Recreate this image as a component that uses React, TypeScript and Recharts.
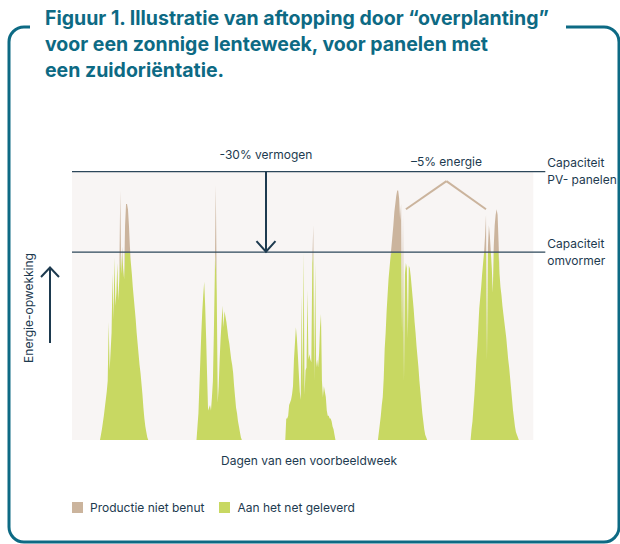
import { Area, AreaChart, Legend, ReferenceArea, ReferenceLine, XAxis, YAxis } from 'recharts'

const INK = '#1d3a4f'
const RULE = '#2c475a'
const TEAL = '#0d6a84'
const GREEN = '#c8d862'
const TAN = '#cbb49d'
const PLOT_BG = '#f8f5f4'
const FONT = 'Inter, "Noto Sans", sans-serif'

// productie per kwartier vanaf zonsopgang, in % van de PV-capaciteit
const DAY_1 = [
  0, 2, 4, 6.5, 9, 12, 15, 18, 22, 44, 26, 33, 40, 62, 45, 68, 50, 55, 66, 52, 60, 93, 62, 72, 64, 60,
  80, 88, 88, 86, 80, 72, 66, 62, 57, 53, 49, 45, 40, 36, 32, 28, 25, 21, 17, 12, 8, 5, 3, 1, 0,
]
const DAY_2 = [
  0, 5, 10, 20, 30, 40, 48, 54, 59, 50, 38, 24, 11, 12, 13, 11, 16, 22, 40, 62, 95, 55, 14, 20, 30, 38,
  44, 50, 42, 48, 46, 44, 41, 38, 36, 33, 30, 28, 25, 20, 16, 12, 10, 7, 5, 3, 1, 0,
]
const DAY_3 = [
  0, 8, 8, 9, 13, 14, 15, 17, 20, 30, 36, 42, 38, 32, 25, 18, 15, 54, 20, 70, 17, 26, 27, 56, 30, 32,
  30, 29, 66, 80, 22, 66, 27, 30, 27, 32, 42, 47, 22, 16, 20, 18, 16, 11, 9, 9, 8, 8, 7, 5, 4, 2, 0,
]
const DAY_4 = [
  0, 3, 6, 9, 13, 16, 23, 34, 40, 48, 54, 60, 64, 68, 72, 76, 80, 85, 88, 91, 93, 93, 90, 82, 88, 40,
  84, 22, 62, 66, 64, 38, 65, 64, 61, 57, 53, 49, 44, 40, 35, 31, 27, 22, 18, 14, 10, 7, 4, 2, 1, 0,
]
const DAY_5 = [
  0, 4, 7, 12, 17, 23, 30, 35, 42, 49, 53, 57, 62, 66, 70, 76, 84, 30, 72, 80, 76, 70, 64, 55, 72, 80,
  84, 86, 84, 74, 62, 57, 54, 50, 47, 44, 41, 38, 34, 30, 27, 23, 19, 15, 11, 8, 5, 3, 2, 1, 0,
]
const DAYS = [DAY_1, DAY_2, DAY_3, DAY_4, DAY_5]
const SUNRISE = [7.25, 32.25, 55.25, 79.25, 103.25]
const STEP = 0.25
const WEEK_END = 119.5

const PV_CAP = 100
const INVERTER_CAP = 70

const SERIES = [
  { key: 'verlies', name: 'Productie niet benut', color: TAN },
  { key: 'geleverd', name: 'Aan het net geleverd', color: GREEN },
]

type Row = { t: number; geleverd: number; verlies: number }

const rows: Row[] = [{ t: 0, geleverd: 0, verlies: 0 }]
DAYS.forEach((day, d) => {
  day.forEach((p, i) => {
    rows.push({
      t: SUNRISE[d] + i * STEP,
      geleverd: Math.min(p, INVERTER_CAP),
      verlies: Math.max(p - INVERTER_CAP, 0),
    })
  })
})
rows.push({ t: WEEK_END, geleverd: 0, verlies: 0 })

const textStyle = { fontFamily: FONT, fontSize: 12, fill: INK }

// horizontale capaciteitslijn, loopt iets door buiten het vlak, met tweeregelig label
function capacityLine(top: string, bottom: string) {
  return (props: any) => (
    <g>
      <line x1={props.x1} y1={props.y1} x2={props.x2 + 12} y2={props.y2} stroke={RULE} strokeWidth={1.2} />
      <text x={props.x2 + 14} y={props.y1 - 4.5} style={textStyle}>
        {top}
      </text>
      <text x={props.x2 + 14} y={props.y1 + 12.5} style={textStyle}>
        {bottom}
      </text>
    </g>
  )
}

function DownArrow(props: any) {
  const { x1, y1, x2, y2 } = props
  return (
    <g>
      <line x1={x1} y1={y1} x2={x2} y2={y2 - 1} stroke={INK} strokeWidth={2} />
      <polyline
        points={`${x2 - 9.5},${y2 - 11} ${x2},${y2 - 0.5} ${x2 + 9.5},${y2 - 11}`}
        fill="none"
        stroke={INK}
        strokeWidth={2}
      />
      <text x={x1} y={y1 - 12.5} textAnchor="middle" style={textStyle}>
        -30% vermogen
      </text>
    </g>
  )
}

function CaretArm(label?: string) {
  return (props: any) => (
    <g>
      <line x1={props.x1} y1={props.y1} x2={props.x2} y2={props.y2} stroke={TAN} strokeWidth={2} />
      {label && (
        <text x={props.x2} y={props.y2 - 15} textAnchor="middle" style={textStyle}>
          {label}
        </text>
      )}
    </g>
  )
}

function LegendContent() {
  return (
    <div style={{ display: 'flex', alignItems: 'center', fontFamily: FONT, fontSize: 12, color: INK, height: 16 }}>
      {SERIES.map((s) => (
        <span key={s.key} style={{ display: 'flex', alignItems: 'center', marginRight: 15 }}>
          <span style={{ width: 11, height: 11, background: s.color, marginRight: 7, display: 'inline-block' }} />
          {s.name}
        </span>
      ))}
    </div>
  )
}

export default function App() {
  return (
    <div style={{ position: 'absolute', left: 0, top: 0, width: 620, height: 544, background: '#fff' }}>
      <svg width={620} height={544} style={{ position: 'absolute', left: 0, top: 0 }}>
        <path
          d="M 30 27 H 24 A 15 15 0 0 0 9 42 V 527 A 15 15 0 0 0 24 542 H 604 A 15 15 0 0 0 619 527 V 42 A 15 15 0 0 0 604 27 H 566"
          fill="none"
          stroke={TEAL}
          strokeWidth={3}
        />
        <g style={{ fontFamily: FONT, fontSize: 19.5, fontWeight: 700, fill: TEAL }}>
          <text x={45} y={25}>Figuur 1. Illustratie van aftopping door “overplanting”</text>
          <text x={45} y={51}>voor een zonnige lenteweek, voor panelen met</text>
          <text x={45} y={77}>een zuidoriëntatie.</text>
        </g>
        <text x={28} y={308} transform="rotate(-90 28 308)" textAnchor="middle" dominantBaseline="central" style={textStyle}>
          Energie-opwekking
        </text>
        <line x1={50} y1={343} x2={50} y2={268} stroke={INK} strokeWidth={2} />
        <polyline points="41,277 50,267.5 59,277" fill="none" stroke={INK} strokeWidth={2} />
        <text x={309} y={465} textAnchor="middle" style={textStyle}>
          Dagen van een voorbeeldweek
        </text>
      </svg>
      <div style={{ position: 'absolute', left: 0, top: 0 }}>
        <AreaChart width={620} height={544} data={rows} margin={{ top: 171.7, right: 86.7, left: 72, bottom: 104 }}>
          <XAxis dataKey="t" type="number" domain={[0, WEEK_END]} hide />
          <YAxis type="number" domain={[0, PV_CAP]} hide />
          <ReferenceArea x1={0} x2={WEEK_END} y1={0} y2={PV_CAP} fill={PLOT_BG} fillOpacity={1} stroke="none" />
          <Area
            type="linear"
            dataKey="geleverd"
            name="Aan het net geleverd"
            stackId="p"
            fill={GREEN}
            fillOpacity={1}
            stroke="none"
            isAnimationActive={false}
          />
          <Area
            type="linear"
            dataKey="verlies"
            name="Productie niet benut"
            stackId="p"
            fill={TAN}
            fillOpacity={1}
            stroke="none"
            isAnimationActive={false}
          />
          <ReferenceLine y={PV_CAP} shape={capacityLine('Capaciteit', 'PV- panelen')} />
          <ReferenceLine y={INVERTER_CAP} shape={capacityLine('Capaciteit', 'omvormer')} />
          <ReferenceLine
            segment={[
              { x: 50.25, y: PV_CAP },
              { x: 50.25, y: INVERTER_CAP },
            ]}
            shape={DownArrow}
          />
          <ReferenceLine
            segment={[
              { x: 86.5, y: 86 },
              { x: 97, y: 96.5 },
            ]}
            shape={CaretArm('–5% energie')}
          />
          <ReferenceLine
            segment={[
              { x: 97, y: 96.5 },
              { x: 107.25, y: 86 },
            ]}
            shape={CaretArm()}
          />
          <Legend
            verticalAlign="middle"
            align="center"
            layout="horizontal"
            content={LegendContent}
            wrapperStyle={{ left: 72, top: 499, width: 'auto' }}
          />
        </AreaChart>
      </div>
    </div>
  )
}
